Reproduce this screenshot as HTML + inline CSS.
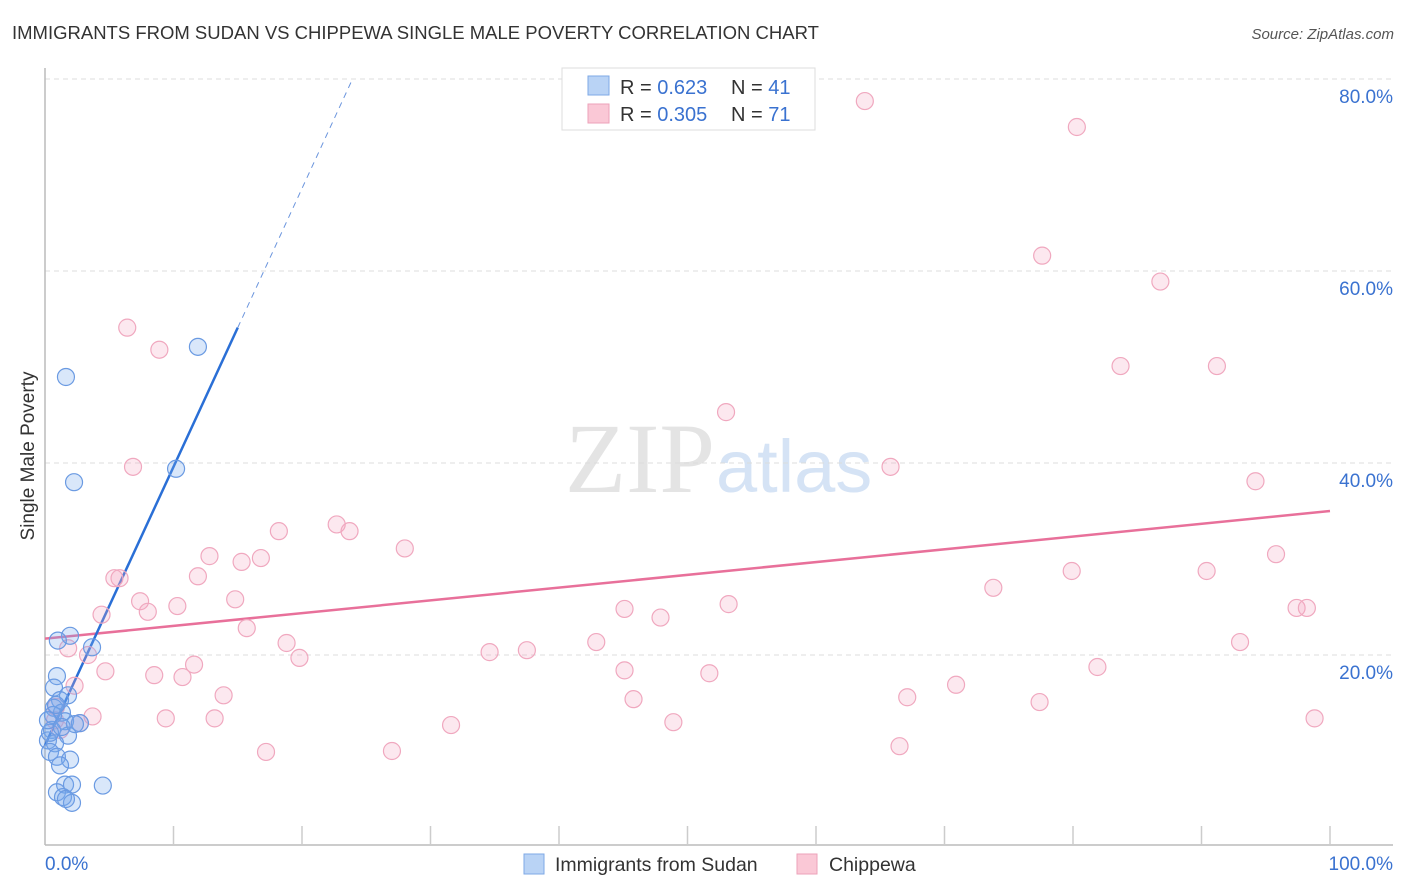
<!DOCTYPE html>
<html><head><meta charset="utf-8"><style>
body{margin:0;background:#fff;width:1406px;height:892px;overflow:hidden;font-family:"Liberation Sans",sans-serif}
svg{position:absolute;left:0;top:0}
</style></head><body>
<svg width="1406" height="892" id="chart">
<text x="12" y="39" font-size="18.5" fill="#333">IMMIGRANTS FROM SUDAN VS CHIPPEWA SINGLE MALE POVERTY CORRELATION CHART</text>
<text x="1394" y="39" font-size="15" fill="#555" font-style="italic" text-anchor="end">Source: ZipAtlas.com</text>
<text x="0" y="0" font-size="19" fill="#333" transform="translate(34,456) rotate(-90)" text-anchor="middle">Single Male Poverty</text>
<text x="715" y="492" font-size="100" fill="#e4e4e4" text-anchor="end" font-family="Liberation Serif,serif">ZIP</text>
<text x="716" y="492" font-size="74" fill="#d5e3f5">atlas</text>
<g id="grid"></g><g id="axes"></g><g id="lines"></g><g id="pts"></g>
<g>
<rect x="562" y="68" width="253" height="62" fill="#fff" stroke="#ddd"/>
<rect x="588" y="76" width="21" height="19" fill="#b9d3f5" stroke="#7ea8e6"/>
<rect x="588" y="104" width="21" height="19" fill="#fac8d6" stroke="#eca2b9"/>
<text x="620" y="94" font-size="20" fill="#333">R = <tspan fill="#3a72d0">0.623</tspan><tspan x="731">N = </tspan><tspan fill="#3a72d0">41</tspan></text>
<text x="620" y="121" font-size="20" fill="#333">R = <tspan fill="#3a72d0">0.305</tspan><tspan x="731">N = </tspan><tspan fill="#3a72d0">71</tspan></text>
</g>
<g>
<rect x="524" y="854" width="20" height="20" fill="#b9d3f5" stroke="#7ea8e6"/>
<text x="555" y="871" font-size="19.5" fill="#333">Immigrants from Sudan</text>
<rect x="797" y="854" width="20" height="20" fill="#fac8d6" stroke="#eca2b9"/>
<text x="829" y="871" font-size="19.5" fill="#333">Chippewa</text>
</g>
</svg>
<script>
const yTicks=[20,40,60,80];
const xTickLabels=["0.0%","100.0%"];
const sudanX=[1.63,2.26,11.9,10.2,1.95,1.0,3.66,0.93,0.7,1.79,1.17,0.7,1.32,1.56,2.72,0.54,1.79,0.23,0.78,0.39,0.93,1.95,1.17,1.56,2.1,4.5,0.93,1.4,2.1,1.63,0.62,0.86,0.39,0.23,2.33,1.3];
const sudanY=[48.96,38.0,52.1,39.4,22.0,21.5,20.8,17.8,16.6,15.8,15.3,14.5,14.0,13.1,12.9,12.2,11.6,11.1,10.8,9.9,9.4,9.1,8.5,6.5,6.5,6.4,5.7,5.2,4.6,5.0,13.75,14.8,11.9,13.2,12.8,12.5];
const chipX=[63.8,80.3,77.6,86.8,6.4,8.9,83.7,91.2,53.0,6.85,65.8,94.2,22.7,23.7,18.2,28.0,12.8,15.3,16.8,95.8,79.9,90.4,5.4,5.8,11.9,73.8,14.8,7.4,10.3,8.0,53.2,45.1,97.4,98.2,4.4,47.9,15.7,18.8,42.9,93.0,1.8,3.35,34.6,37.5,19.8,11.6,4.7,8.5,10.7,45.1,51.7,81.9,2.3,70.9,13.9,45.8,67.1,77.4,0.86,3.7,0.78,9.4,13.2,2.7,31.6,48.9,98.8,17.2,27.0,66.5,1.17];
const chipY=[77.7,75.0,61.6,58.9,54.1,51.8,50.1,50.1,45.3,39.6,39.6,38.1,33.6,32.9,32.9,31.1,30.3,29.7,30.1,30.5,28.75,28.75,28.0,28.0,28.2,27.0,25.8,25.6,25.1,24.5,25.3,24.8,24.9,24.9,24.2,23.9,22.8,21.25,21.35,21.35,20.7,20.0,20.3,20.5,19.7,19.0,18.3,17.9,17.7,18.4,18.1,18.75,16.8,16.9,15.8,15.4,15.6,15.1,14.6,13.6,13.2,13.4,13.4,12.9,12.7,13.0,13.4,9.9,10.0,10.5,12.2];
const sudanLine=[10.6,2.9];
const chipLine=[21.7,0.133];
const X=v=>45+v*12.85, Y=v=>847-v*9.6;
const NS="http://www.w3.org/2000/svg";
function mk(t,a,p){const e=document.createElementNS(NS,t);for(const k in a)e.setAttribute(k,a[k]);document.getElementById(p).appendChild(e);return e;}
yTicks.forEach(t=>{
 const l=mk('line',{x1:45,x2:1393,y1:Y(t),y2:Y(t),stroke:'#dcdcdc','stroke-dasharray':'5,4'},'grid');
 
 
 const tx=mk('text',{x:1393,y:Y(t)+24,'font-size':19,fill:'#3a72d0','text-anchor':'end'},'grid');
 tx.textContent=t.toFixed(1)+'%';
 
 
});
const ax=mk('line',{x1:45,x2:1393,y1:845,y2:845,stroke:'#bbb','stroke-width':1.5},'axes');


const ay=mk('line',{x1:45,x2:45,y1:68,y2:845,stroke:'#bbb','stroke-width':1.5},'axes');


for(let i=1;i<=10;i++){const t=mk('line',{x1:X(i*10),x2:X(i*10),y1:826,y2:845,stroke:'#ccc','stroke-width':1.5},'axes');
 
 }
const xl0=mk('text',{x:45,y:870,'font-size':19,fill:'#3a72d0'},'axes');xl0.textContent=xTickLabels[0];


const xl1=mk('text',{x:1393,y:870,'font-size':19,fill:'#3a72d0','text-anchor':'end'},'axes');xl1.textContent=xTickLabels[1];


const pl=mk('line',{x1:X(0),y1:Y(chipLine[0]),x2:X(100),y2:Y(chipLine[0]+chipLine[1]*100),stroke:'#e8709a','stroke-width':2.5},'lines');


const xs=15, xe=(80-sudanLine[0])/sudanLine[1];
const bl=mk('line',{x1:X(0),y1:Y(sudanLine[0]),x2:X(xs),y2:Y(sudanLine[0]+sudanLine[1]*xs),stroke:'#2a6fd6','stroke-width':2.5},'lines');


const bd=mk('line',{x1:X(xs),y1:Y(sudanLine[0]+sudanLine[1]*xs),x2:X(xe),y2:Y(80),stroke:'#6b95dd','stroke-width':1,'stroke-dasharray':'6,5'},'lines');


chipX.forEach((v,i)=>{const c=mk('circle',{cx:X(v),cy:Y(chipY[i]),r:8.5,fill:'rgba(245,165,190,0.25)',stroke:'#f0a8bf','stroke-width':1.2},'pts');
 
 });
sudanX.forEach((v,i)=>{const c=mk('circle',{cx:X(v),cy:Y(sudanY[i]),r:8.5,fill:'rgba(120,168,238,0.28)',stroke:'#6a9ae2','stroke-width':1.2},'pts');
 
 });
</script>
</body></html>
